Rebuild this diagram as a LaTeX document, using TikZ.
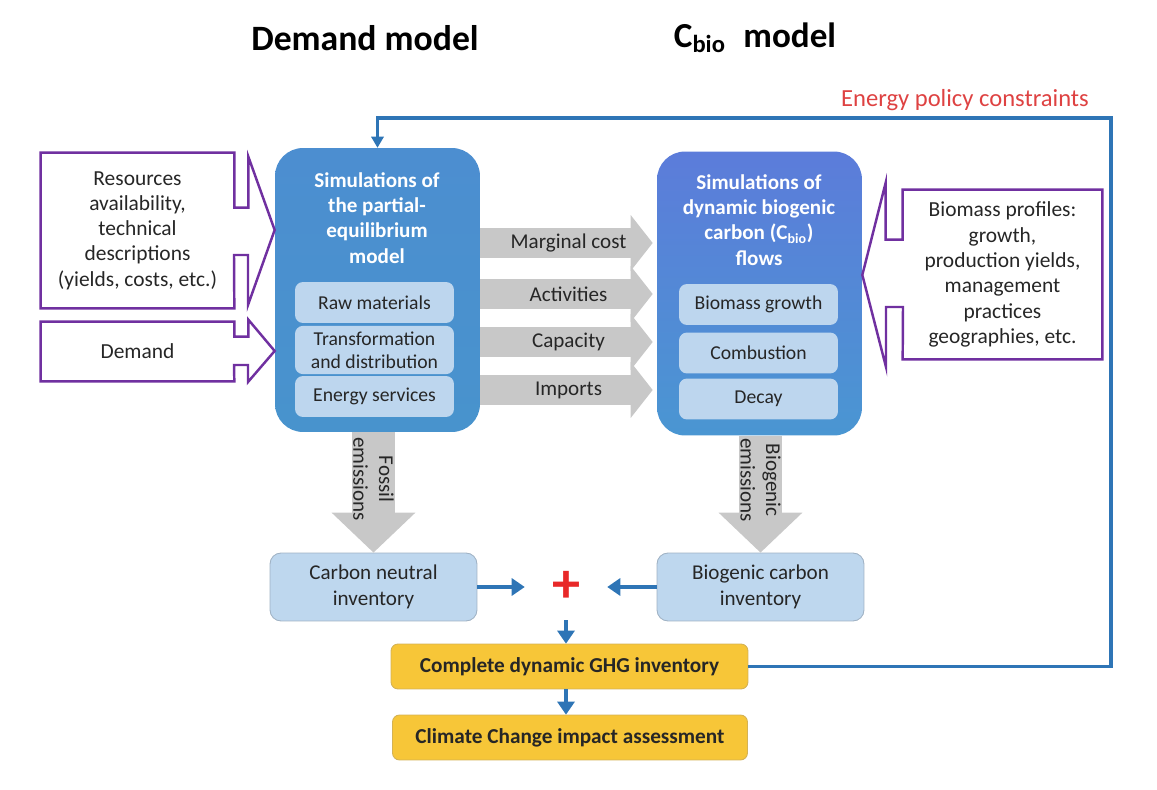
\documentclass[tikz,border=0pt]{standalone}
\usepackage{fontspec}
\setmainfont{Carlito}
\usetikzlibrary{arrows.meta,calc}

\definecolor{simtop}{RGB}{76,142,208}
\definecolor{simbot}{RGB}{72,147,205}
\definecolor{cbiotop}{RGB}{92,124,218}
\definecolor{cbiobot}{RGB}{74,150,210}
\definecolor{subblue}{RGB}{189,214,238}
\definecolor{invblue}{RGB}{190,215,238}
\definecolor{invedge}{RGB}{160,178,196}
\definecolor{resyellow}{RGB}{247,198,56}
\definecolor{resedge}{RGB}{212,178,84}
\definecolor{flowgray}{RGB}{200,200,200}
\definecolor{callpurple}{RGB}{112,48,160}
\definecolor{linkblue}{RGB}{46,117,182}
\definecolor{policyred}{RGB}{222,66,66}
\definecolor{plusred}{RGB}{232,40,40}
\definecolor{txt}{RGB}{38,38,38}

\def\subw{3.18cm}
\def\subh{0.82cm}

\tikzset{
  mainbox/.style={rounded corners=0.56cm, minimum width=4.1cm, minimum height=5.68cm},
  subbox/.style={fill=subblue, rounded corners=0.16cm, minimum width=\subw, minimum height=\subh,
    text=txt, align=center, font=\fontsize{11.2}{13}\selectfont},
  boxtitle/.style={text=white, align=center, font=\bfseries\fontsize{12}{14.3}\selectfont},
  intext/.style={text=txt, align=center, font=\fontsize{12.2}{14.4}\selectfont},
  callout/.style={draw=callpurple, line width=1.4pt, line join=miter},
  flow/.style={draw=flowgray, line width=0.6cm, shorten >=0.08cm,
    -{Triangle[length=0.44cm,width=1.12cm,line width=0pt]}},
  emission/.style={draw=flowgray, line width=0.86cm,
    -{Triangle[length=0.8cm,width=1.68cm,line width=0pt]}},
  flowlabel/.style={text=txt, font=\fontsize{12}{14.6}\selectfont},
  invbox/.style={fill=invblue, draw=invedge, line width=0.5pt, rounded corners=0.22cm,
    minimum width=4.14cm, minimum height=1.36cm, text=txt, align=center,
    font=\fontsize{12}{14.4}\selectfont},
  resbox/.style={fill=resyellow, draw=resedge, line width=0.5pt, rounded corners=0.14cm,
    minimum height=0.9cm, text=txt, font=\bfseries\fontsize{12.1}{14}\selectfont},
  link/.style={draw=linkblue, line width=2.6pt,
    -{Triangle[length=0.26cm,width=0.36cm,line width=0pt]}},
  feedback/.style={draw=linkblue, line width=2.2pt, line join=miter,
    -{Triangle[length=0.22cm,width=0.26cm,line width=0pt]}},
}

\begin{document}
\begin{tikzpicture}[x=0.02cm,y=-0.02cm]
\useasboundingbox (0,0) rectangle (1157,790);

% headings
\node[font=\bfseries\fontsize{20.3}{24}\selectfont, text=black] (demT) at (365,38) {Demand model};
\node[font=\bfseries\fontsize{20}{24}\selectfont, text=black] (cbioHead) at (755,38) {C\textsubscript{bio}\enspace model};
\node[font=\fontsize{14}{16}\selectfont, text=policyred] (policy) at (965,100) {Energy policy constraints};

% the two models
\node[mainbox, top color=simtop, bottom color=simbot] (sim) at (377.5,290) {};
\node[mainbox, top color=cbiotop, bottom color=cbiobot] (cbio) at (759.5,293.5) {};

\node[boxtitle] (simT) at (377,218) {Simulations of\\the partial-\\equilibrium\\model};
\node[subbox] (raw) at (374.5,302.5) {Raw materials};
\node[subbox] (trans) at (374.5,350) {Transformation\\and distribution};
\node[subbox] (serv) at (374.5,396.5) {Energy services};

\node[boxtitle] (cbioT) at (759,220) {Simulations of\\dynamic biogenic\\carbon (C\textsubscript{bio})\\flows};
\node[subbox] (grow) at (758.5,304.5) {Biomass growth};
\node[subbox] (comb) at (758.5,353) {Combustion};
\node[subbox] (decay) at (758.5,399) {Decay};

% inputs
\node[intext, minimum width=3.86cm, minimum height=3.1cm] (res) at (137.5,230.5)
  {Resources\\availability,\\technical\\descriptions\\(yields, costs, etc.)};
\node[intext, minimum width=3.86cm, minimum height=1.18cm] (dem) at (137.5,351.5) {Demand};
\node[intext, minimum width=3.98cm, minimum height=3.38cm] (bio) at (1002.5,274.5)
  {Biomass profiles:\\growth,\\production yields,\\management\\practices\\geographies, etc.};

\draw[callout] (res.north west) -- (res.north east) -- ++(0,55) -- ++(14,0) -- ++(0,-51)
  -- (sim.west |- 0,230) -- (248,305) -- ++(0,-50) -- ++(-14,0) -- (res.south east)
  -- (res.south west) -- cycle;
\draw[callout] (dem.north west) -- (dem.north east) -- ++(0,15) -- ++(14,0) -- ++(0,-17)
  -- (sim.west |- 0,351) -- (248,382) -- ++(0,-17) -- ++(-14,0) -- (dem.south east)
  -- (dem.south west) -- cycle;
\draw[callout] (bio.north east) -- (bio.north west) -- ++(0,50) -- ++(-17,0) -- ++(0,-57)
  -- (cbio.east |- 0,275) -- (886,367) -- ++(0,-60) -- ++(17,0) -- (bio.south west)
  -- (bio.south east) -- cycle;

% exchanged flows
\draw[flow] (sim.east |- 0,243) -- (cbio.west |- 0,243) node[flowlabel, midway] (mc) {Marginal cost};
\draw[flow] (sim.east |- 0,294) -- (cbio.west |- 0,294) node[flowlabel, midway] (act) {Activities};
\draw[flow] (sim.east |- 0,342) -- (cbio.west |- 0,342) node[flowlabel, midway] (cap) {Capacity};
\draw[flow] (sim.east |- 0,390) -- (cbio.west |- 0,390) node[flowlabel, midway] (imp) {Imports};

% inventories
\node[invbox] (cn) at (373.5,587) {Carbon neutral\\inventory};
\node[invbox] (bc) at (760.5,587) {Biogenic carbon\\inventory};

\draw[emission] (cn.north |- sim.south) -- (cn.north)
  node[flowlabel, pos=0.39, rotate=-90, align=center] (fos) {Fossil\\emissions};
\draw[emission] (bc.north |- cbio.south) -- (bc.north)
  node[flowlabel, pos=0.38, rotate=-90, align=center] (biog) {Biogenic\\emissions};

\node[text=plusred, font=\bfseries\fontsize{32}{32}\selectfont, minimum width=1.64cm, minimum height=1.32cm] (plus) at (566,587) {+};

\node[resbox, minimum width=7.14cm] (ghg) at (569.5,666.5) {Complete dynamic GHG inventory};
\node[resbox, minimum width=7.1cm] (climate) at (570,737.5) {Climate Change impact assessment};

\draw[link] (cn.east) -- (plus.west);
\draw[link] (bc.west) -- (plus.east);
\draw[link] (plus.south) -- (plus.south |- ghg.north);
\draw[link] (plus.south |- ghg.south) -- (plus.south |- climate.north);

% policy loop back to the demand model
\draw[feedback] (ghg.east) -- (1111,666.5) |- (sim.north |- 0,118) -- (sim.north);

\end{tikzpicture}
\end{document}
